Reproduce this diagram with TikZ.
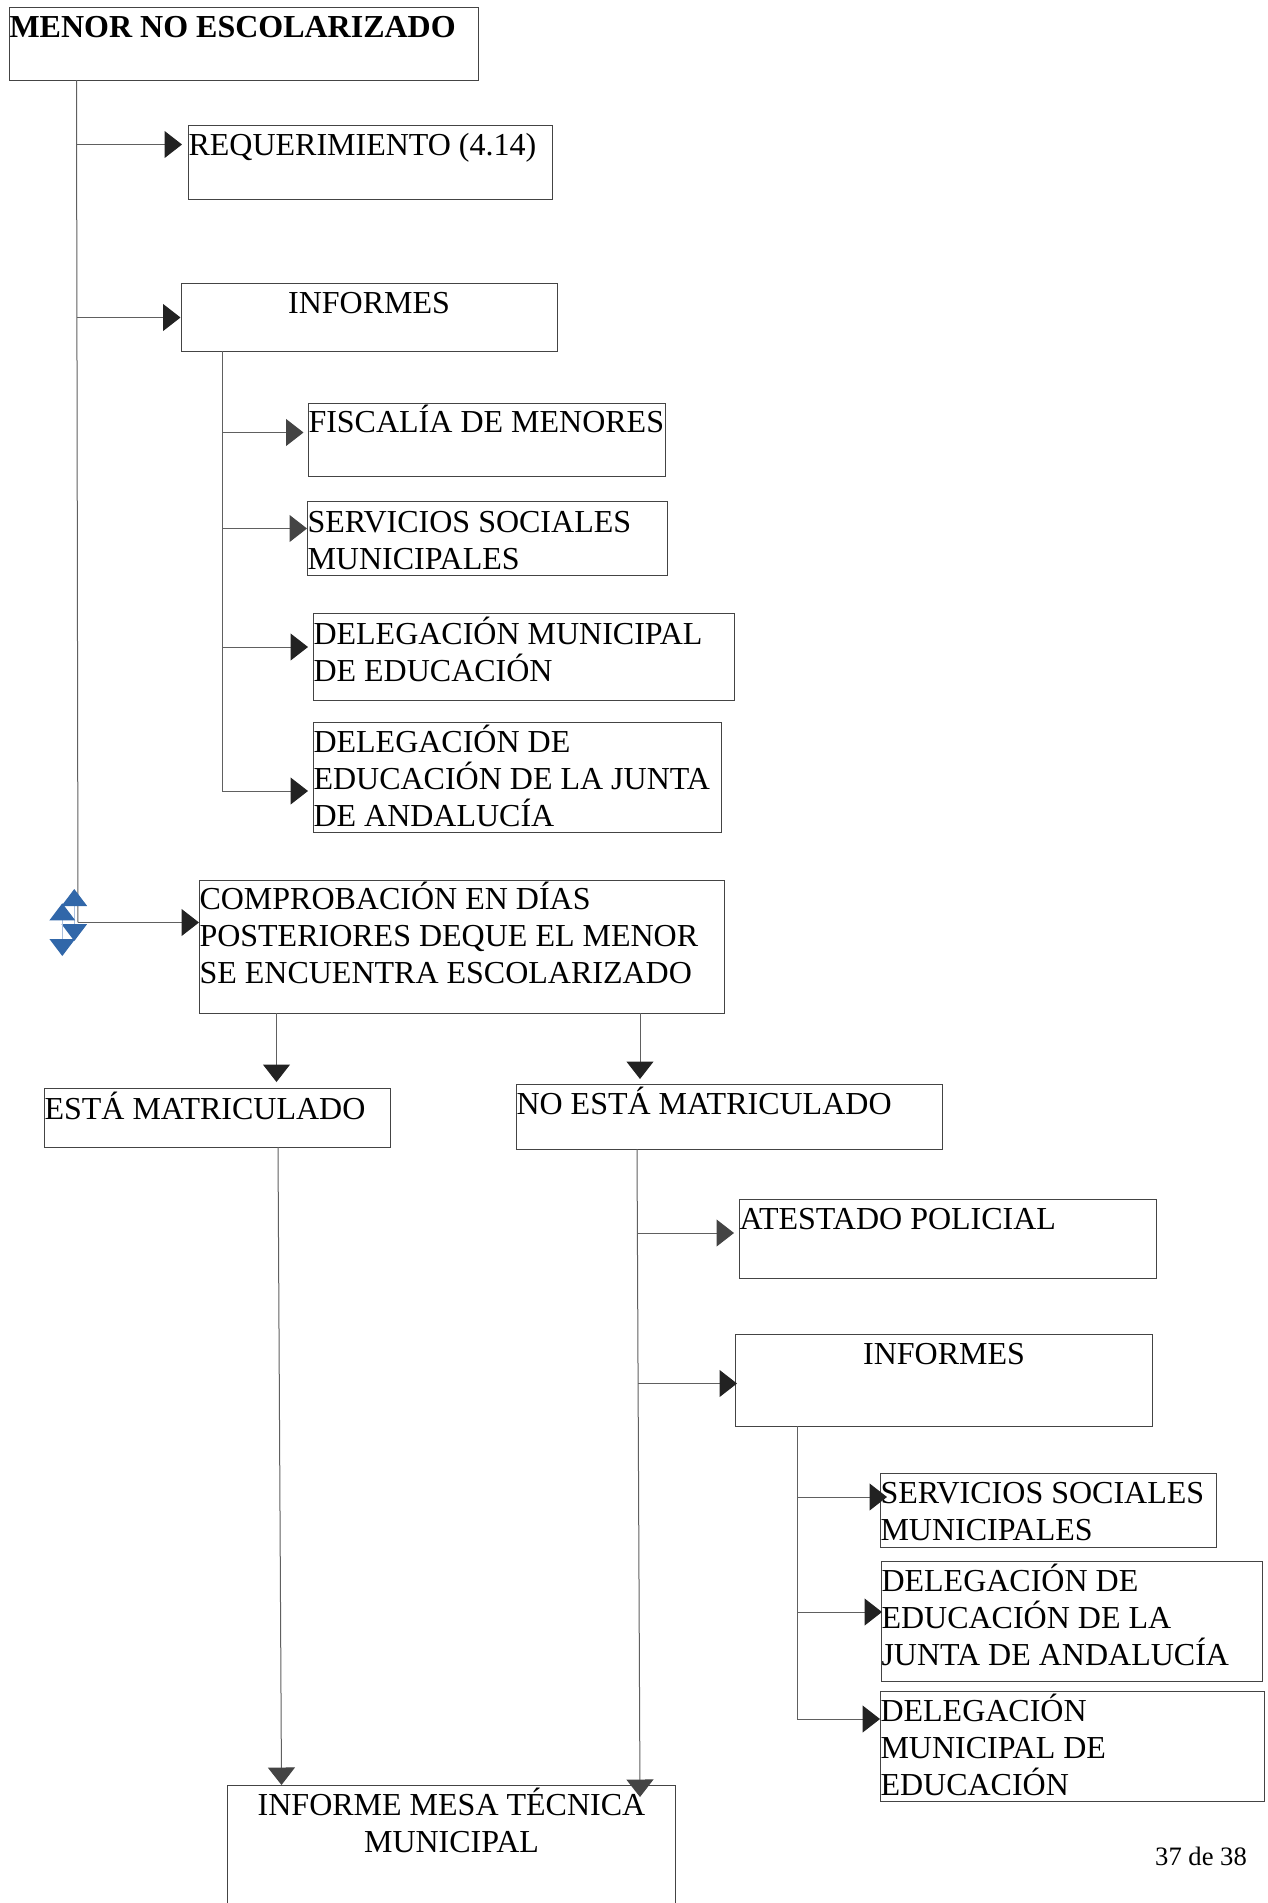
\documentclass[tikz,border=0pt]{standalone}
\usepackage{fontspec}
\setmainfont{Liberation Serif}
\usetikzlibrary{arrows.meta}
\definecolor{azul}{HTML}{3167A9}
\definecolor{azulclaro}{HTML}{A9BFDD}
\definecolor{tinta}{HTML}{222222}
\definecolor{gris}{HTML}{444444}
\newcommand{\cajatxt}[4][30]{\parbox[t][#3pt][t]{#2pt}{\raggedright\fontsize{32}{37}\selectfont\rule{0pt}{#1pt}#4}}
\tikzset{
  caja/.style={draw=gris,line width=1pt,inner sep=0pt,anchor=north west,text=black},
  linea/.style={draw=gris!85,line width=1pt},
  flecha/.style={linea,-{Triangle[length=17.5pt,width=27pt,color=tinta]}},
  flechagris/.style={linea,-{Triangle[length=17.5pt,width=27pt,color=gris]}},
  flechaazul/.style={draw=azulclaro,line width=1pt,{Triangle[length=17pt,width=25.5pt,color=azul]}-{Triangle[length=17pt,width=25.5pt,color=azul]}}
}
\begin{document}
\begin{tikzpicture}[x=1pt,y=-1pt]
\useasboundingbox (0,0) rectangle (1268,1903);
\clip (0,0) rectangle (1268,1903);
\node (menor) [caja] at (9,7) {\cajatxt{469}{73}{\textbf{MENOR NO ESCOLARIZADO}}};
\node (requerimiento) [caja] at (188,125) {\cajatxt{364}{74}{REQUERIMIENTO (4.14)}};
\node (informes) [caja] at (180.5,282.5) {\cajatxt{376}{68}{\centering INFORMES}};
\node (fiscalia) [caja] at (308,403) {\cajatxt[29]{357}{73}{FISCALÍA DE MENORES}};
\node (servicios) [caja] at (307,501) {\cajatxt[30.5]{360}{74}{SERVICIOS SOCIALES\\MUNICIPALES}};
\node (municipal) [caja] at (313,613) {\cajatxt[30.5]{421}{87}{DELEGACIÓN MUNICIPAL\\DE EDUCACIÓN}};
\node (junta) [caja] at (313,722) {\cajatxt{408}{110}{DELEGACIÓN DE\\EDUCACIÓN DE LA JUNTA\\DE ANDALUCÍA}};
\node (comprobacion) [caja] at (199,879.5) {\cajatxt[29.5]{525}{133}{COMPROBACIÓN EN DÍAS\\POSTERIORES DEQUE EL MENOR\\SE ENCUENTRA ESCOLARIZADO}};
\node (esta) [caja] at (44,1088) {\cajatxt[31]{346}{59}{ESTÁ MATRICULADO}};
\node (noesta) [caja] at (516,1084) {\cajatxt{426}{65}{NO ESTÁ MATRICULADO}};
\node (atestado) [caja] at (739,1199) {\cajatxt{417}{79}{ATESTADO POLICIAL}};
\node (informesb) [caja] at (735,1334) {\cajatxt{417}{92}{\centering INFORMES}};
\node (serviciosb) [caja] at (880,1473) {\cajatxt{336}{74}{SERVICIOS SOCIALES\\MUNICIPALES}};
\node (juntab) [caja] at (881,1561) {\cajatxt{381}{120}{DELEGACIÓN DE\\EDUCACIÓN DE LA\\JUNTA DE ANDALUCÍA}};
\node (municipalb) [caja] at (880,1691) {\cajatxt{384}{110}{DELEGACIÓN\\MUNICIPAL DE\\EDUCACIÓN}};
\node (mesa) [caja] at (227,1785) {\cajatxt{448}{125}{\centering INFORME MESA TÉCNICA\\MUNICIPAL}};
\node (pagina) [anchor=base west,inner sep=0pt,font=\fontsize{26.6}{30}\selectfont] at (1155,1865) {37 de 38};
\coordinate (troncoA) at (76.5,80);
\coordinate (troncoB) at (78,922.5);
\coordinate (reqA) at (77,144.5);
\coordinate (infA) at (77.2,317.5);
\draw[linea] (troncoA) -- (troncoB);
\draw[flecha,shorten >=6pt] (reqA) -- (reqA -| requerimiento.west);
\draw[flecha] (infA) -- (infA -| informes.west);
\draw[flecha] (troncoB) -- (troncoB -| comprobacion.west);
\coordinate (ramaA) at (222,351);
\coordinate (ramaB) at (222,791);
\coordinate (fisA) at (222,432.5);
\coordinate (serA) at (222,528.5);
\coordinate (munA) at (222,647);
\draw[linea] (ramaA) -- (ramaB);
\draw[flechagris,shorten >=4.5pt] (fisA) -- (fisA -| fiscalia.west);
\draw[flechagris] (serA) -- (serA -| servicios.west);
\draw[flecha,shorten >=5pt] (munA) -- (munA -| municipal.west);
\draw[flecha,shorten >=5pt] (ramaB) -- (ramaB -| junta.west);
\coordinate (bajaA) at (276.5,1013);
\coordinate (bajaB) at (640,1013);
\draw[flecha,shorten >=6pt] (bajaA) -- (bajaA |- esta.north);
\draw[flecha,shorten >=5pt] (bajaB) -- (bajaB |- noesta.north);
\coordinate (estaA) at (278,1147);
\coordinate (estaB) at (281.5,1785);
\draw[flechagris] (estaA) -- (estaB);
\coordinate (noA) at (637,1149);
\coordinate (noB) at (640,1797);
\draw[flechagris] (noA) -- (noB);
\coordinate (ateA) at (637.5,1233);
\coordinate (infB) at (638,1383.5);
\draw[flechagris,shorten >=5pt] (ateA) -- (ateA -| atestado.west);
\draw[flecha,shorten >=-2pt] (infB) -- (infB -| informesb.west);
\coordinate (ramaC) at (797,1426);
\coordinate (ramaD) at (797,1719);
\coordinate (serB) at (797,1497);
\coordinate (junB) at (797,1612);
\draw[linea] (ramaC) -- (ramaD);
\draw[flecha,shorten >=-7pt] (serB) -- (serB -| serviciosb.west);
\draw[flecha,shorten >=-1pt] (junB) -- (junB -| juntab.west);
\draw[flecha] (ramaD) -- (ramaD -| municipalb.west);
\coordinate (azulA) at (74.3,889);
\coordinate (azulB) at (74.3,941);
\coordinate (azulC) at (62.3,903.3);
\coordinate (azulD) at (62.3,956);
\draw[flechaazul] (azulA) -- (azulB);
\draw[flechaazul] (azulC) -- (azulD);
\end{tikzpicture}
\end{document}
